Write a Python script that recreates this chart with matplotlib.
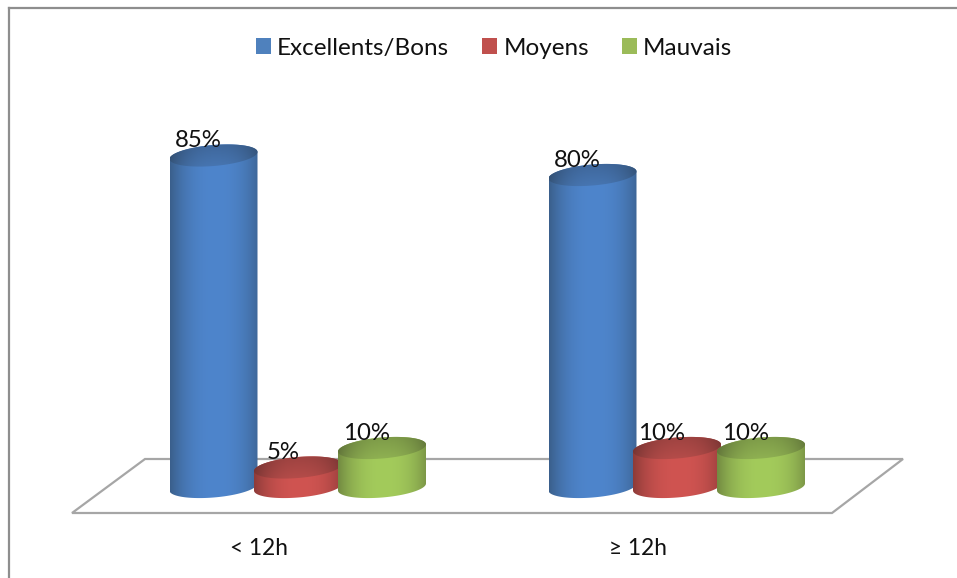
import numpy as np
import matplotlib
matplotlib.use("Agg")
import matplotlib.pyplot as plt
from matplotlib.colors import to_rgb
from matplotlib.lines import Line2D
from matplotlib.patches import Patch, Polygon

categories = ["< 12h", "≥ 12h"]
series_names = ["Excellents/Bons", "Moyens", "Mauvais"]
excellents = [85, 80]
moyens = [5, 10]
mauvais = [10, 10]
colors = ["#4F81BD", "#C0504D", "#9BBB59"]
bright = ["#4E85CC", "#D05451", "#A3CB5B"]

W, H = 957, 578
PX_X = 379.0      # pixels per category
PX_Y = 3.9        # pixels per percent
X0, Y0 = 298.0, 487.0  # pixel of category 0 / value 0

fig = plt.figure(figsize=(W / 100, H / 100), dpi=100, facecolor="white")
ax = fig.add_axes([0, 0, 1, 1])
ax.axis("off")
xlim = ((0 - X0) / PX_X, (W - X0) / PX_X)
ylim = ((Y0 - H) / PX_Y, Y0 / PX_Y)

FONT = "Lato"
dx = lambda p: p / PX_X
dy = lambda p: p / PX_Y


def fx(px):
    return (px - X0) / PX_X


def fy(py):
    return (Y0 - py) / PX_Y


# outer frame, clipped by the picture on the right and at the bottom
for xs, ys in (([9, 9], [H, 7.5]), ([9, W], [7.5, 7.5])):
    fig.add_artist(Line2D([x / W for x in xs], [1 - y / H for y in ys],
                          color="#8E8E8E", lw=1.6, transform=fig.transFigure))

# floor
floor_x = [72, 832, 903, 145]
floor_y = [513, 513, 459, 459]
ax.add_patch(Polygon(np.c_[[fx(v) for v in floor_x], [fy(v) for v in floor_y]],
                     closed=True, fill=False, ec="#A6A6A6", lw=1.6, zorder=1))

A, B, SHEAR = 44.0, 10.5, 0.08


def ellipse(cx, cy, t):
    """Tilted ellipse, cx in category units and cy in percent."""
    return (cx + dx(A * np.cos(t)),
            cy + dy(B * np.sin(t) + SHEAR * A * np.cos(t)))


def scale(c, k):
    return np.clip(np.array(to_rgb(c)) * k, 0, 1)


def grad_image(base, light, n=120, top=False):
    u = np.linspace(0, 1, n)
    shape = np.clip(1 - (np.abs(u - 0.52) / 0.52) ** 2.4, 0, 1)
    dark, lit = scale(base, 0.74), np.array(to_rgb(light))
    img = dark[None, :] + (lit - dark)[None, :] * shape[:, None]
    img = img[None, :, :]
    if top:
        v = np.linspace(0, 1, 40)[:, None, None]
        img = np.repeat(img, 40, axis=0) * (0.72 + 0.14 * v) + 0.02
        img = np.clip(img, 0, 1)
    return img


def cylinder(cx, value, base, light, z):
    t = np.linspace(0, 2 * np.pi, 200)
    t_front = np.linspace(np.pi, 2 * np.pi, 100)
    t_back = np.linspace(0, np.pi, 100)
    bx, by = ellipse(cx, 0, t_front)
    tx, ty = ellipse(cx, value, t_back)
    body = Polygon(np.c_[np.r_[bx, tx], np.r_[by, ty]], closed=True,
                   fc="none", ec="none", zorder=z)
    ax.add_patch(body)
    ext = [cx - dx(A), cx + dx(A), -dy(B + 4), value + dy(B + 4)]
    im = ax.imshow(grad_image(base, light), extent=ext, aspect="auto",
                   interpolation="bilinear", zorder=z)
    im.set_clip_path(body)

    ex, ey = ellipse(cx, value, t)
    cap = Polygon(np.c_[ex, ey], closed=True, fc="none", ec="none", zorder=z + 0.1)
    ax.add_patch(cap)
    ext2 = [cx - dx(A), cx + dx(A), value - dy(B + 4), value + dy(B + 4)]
    im2 = ax.imshow(grad_image(base, light, top=True), extent=ext2, aspect="auto",
                    origin="upper", interpolation="bilinear", zorder=z + 0.1)
    im2.set_clip_path(cap)


offsets_px = [-84.5, 0, 84]
all_series = [excellents, moyens, mauvais]
for s, vals in enumerate(all_series):
    for c, v in enumerate(vals):
        cx = c + dx(offsets_px[s])
        cylinder(cx, v, colors[s], bright[s], 2 + s)
        ax.text(cx - dx(15), v + dy(15), f"{v}%", ha="center", va="center",
                fontsize=17.3, family=FONT, color="#111111", zorder=10)

# category labels sit left of the group centres, as on the 3D axis
for c, name in enumerate(categories):
    ax.text(c + dx(-39.5), fy(548.5), name, ha="center", va="center",
            fontsize=16.3, family=FONT, color="#111111", zorder=10)

handles = [Patch(fc=col, ec="none", label=n) for col, n in zip(colors, series_names)]
ax.legend(handles=handles, ncol=3, loc="center",
          bbox_to_anchor=(494 / W, 1 - 48.5 / H), bbox_transform=fig.transFigure,
          frameon=False, handlelength=0.64, handleheight=0.64,
          handletextpad=0.24, columnspacing=1.34, borderpad=0,
          prop={"family": FONT, "size": 17.5}, labelcolor="#111111")

ax.set_xlim(*xlim)
ax.set_ylim(*ylim)
fig.savefig("out.png", dpi=100, facecolor="white")
